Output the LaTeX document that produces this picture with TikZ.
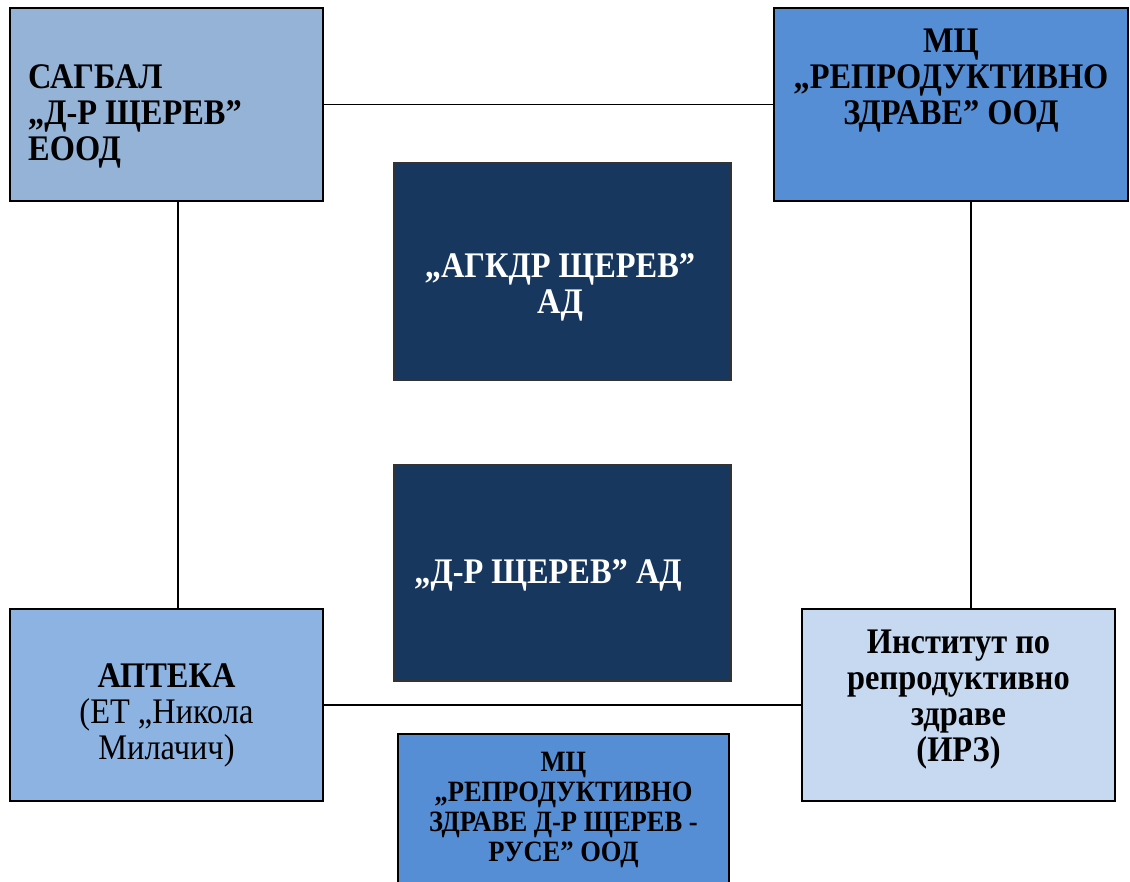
\documentclass[tikz,border=0pt]{standalone}
\usepackage{fontspec}
\setmainfont{Liberation Serif}[FakeStretch=0.9]
\definecolor{sagbalfill}{HTML}{95B3D7}
\definecolor{mcfill}{HTML}{558ED5}
\definecolor{adfill}{HTML}{17375E}
\definecolor{aptfill}{HTML}{8DB3E2}
\definecolor{irzfill}{HTML}{C6D9F1}
\begin{document}
\begin{tikzpicture}[x = 1pt, y = -1pt,
		box/.style = {draw, line width = 1.6pt, inner sep = 0pt},
		darkbox/.style = {draw = black!80, line width = 1.2pt, fill = adfill, inner sep = 0pt},
		big/.style = {font = \fontsize{36}{36}\selectfont\bfseries, align = center, inner sep = 0pt, anchor = north},
		link/.style = {line width = 1.4pt}]
		\useasboundingbox (0,0) rectangle (1130,882);
		\clip (0,0) rectangle (1130,882);
		% boxes
		\node[box, fill = sagbalfill, minimum width = 313, minimum height = 193] (sagbal) at (166.5, 104.5) {};
		\node[box, fill = mcfill, minimum width = 354, minimum height = 193] (mcrz) at (951, 104.5) {};
		\node[darkbox, minimum width = 337, minimum height = 217] (agkdr) at (562.5, 271.5) {};
		\node[darkbox, minimum width = 337, minimum height = 216] (shterev) at (562.5, 573) {};
		\node[box, fill = aptfill, minimum width = 313, minimum height = 192] (apteka) at (166.5, 705) {};
		\node[box, fill = irzfill, minimum width = 313, minimum height = 192] (irz) at (958.5, 705) {};
		\node[box, fill = mcfill, minimum width = 331, minimum height = 170] (ruse) at (563.5, 819) {};
		% texts
		\node[big, align = left, anchor = north west] (sagbaltext) at (28, 64) {САГБАЛ\\„Д-Р ЩЕРЕВ”\\ЕООД};
		\node[big] (mcrztext) at (951, 29) {МЦ\\„РЕПРОДУКТИВНО\\ЗДРАВЕ” ООД};
		\node[big, text = white] (agkdrtext) at (560, 253) {„АГКДР ЩЕРЕВ”\\АД};
		\node[big, text = white] (shterevtext) at (548, 559) {„Д-Р ЩЕРЕВ” АД};
		\node[big] (aptekatext) at (166.5, 664) {АПТЕКА\\\mdseries(ЕТ „Никола\\\mdseries Милачич)};
		\node[big] (irztext) at (958.5, 630) {Институт по\\репродуктивно\\здраве\\(ИРЗ)};
		\node[big, font = \fontsize{29.5}{30}\selectfont\bfseries] (rusetext) at (563.5, 752) {МЦ\\„РЕПРОДУКТИВНО\\ЗДРАВЕ Д-Р ЩЕРЕВ -\\РУСЕ” ООД};
		% connectors
		\draw[link] (sagbal.east) -- (mcrz.west);
		\draw[link] (apteka.east) -- (irz.west);
		\draw[link] ([xshift = 11.5pt]sagbal.south) -- ([xshift = 11.5pt]sagbal.south |- apteka.north);
		\draw[link] ([xshift = 20pt]mcrz.south) -- ([xshift = 20pt]mcrz.south |- irz.north);
\end{tikzpicture}
\end{document}
